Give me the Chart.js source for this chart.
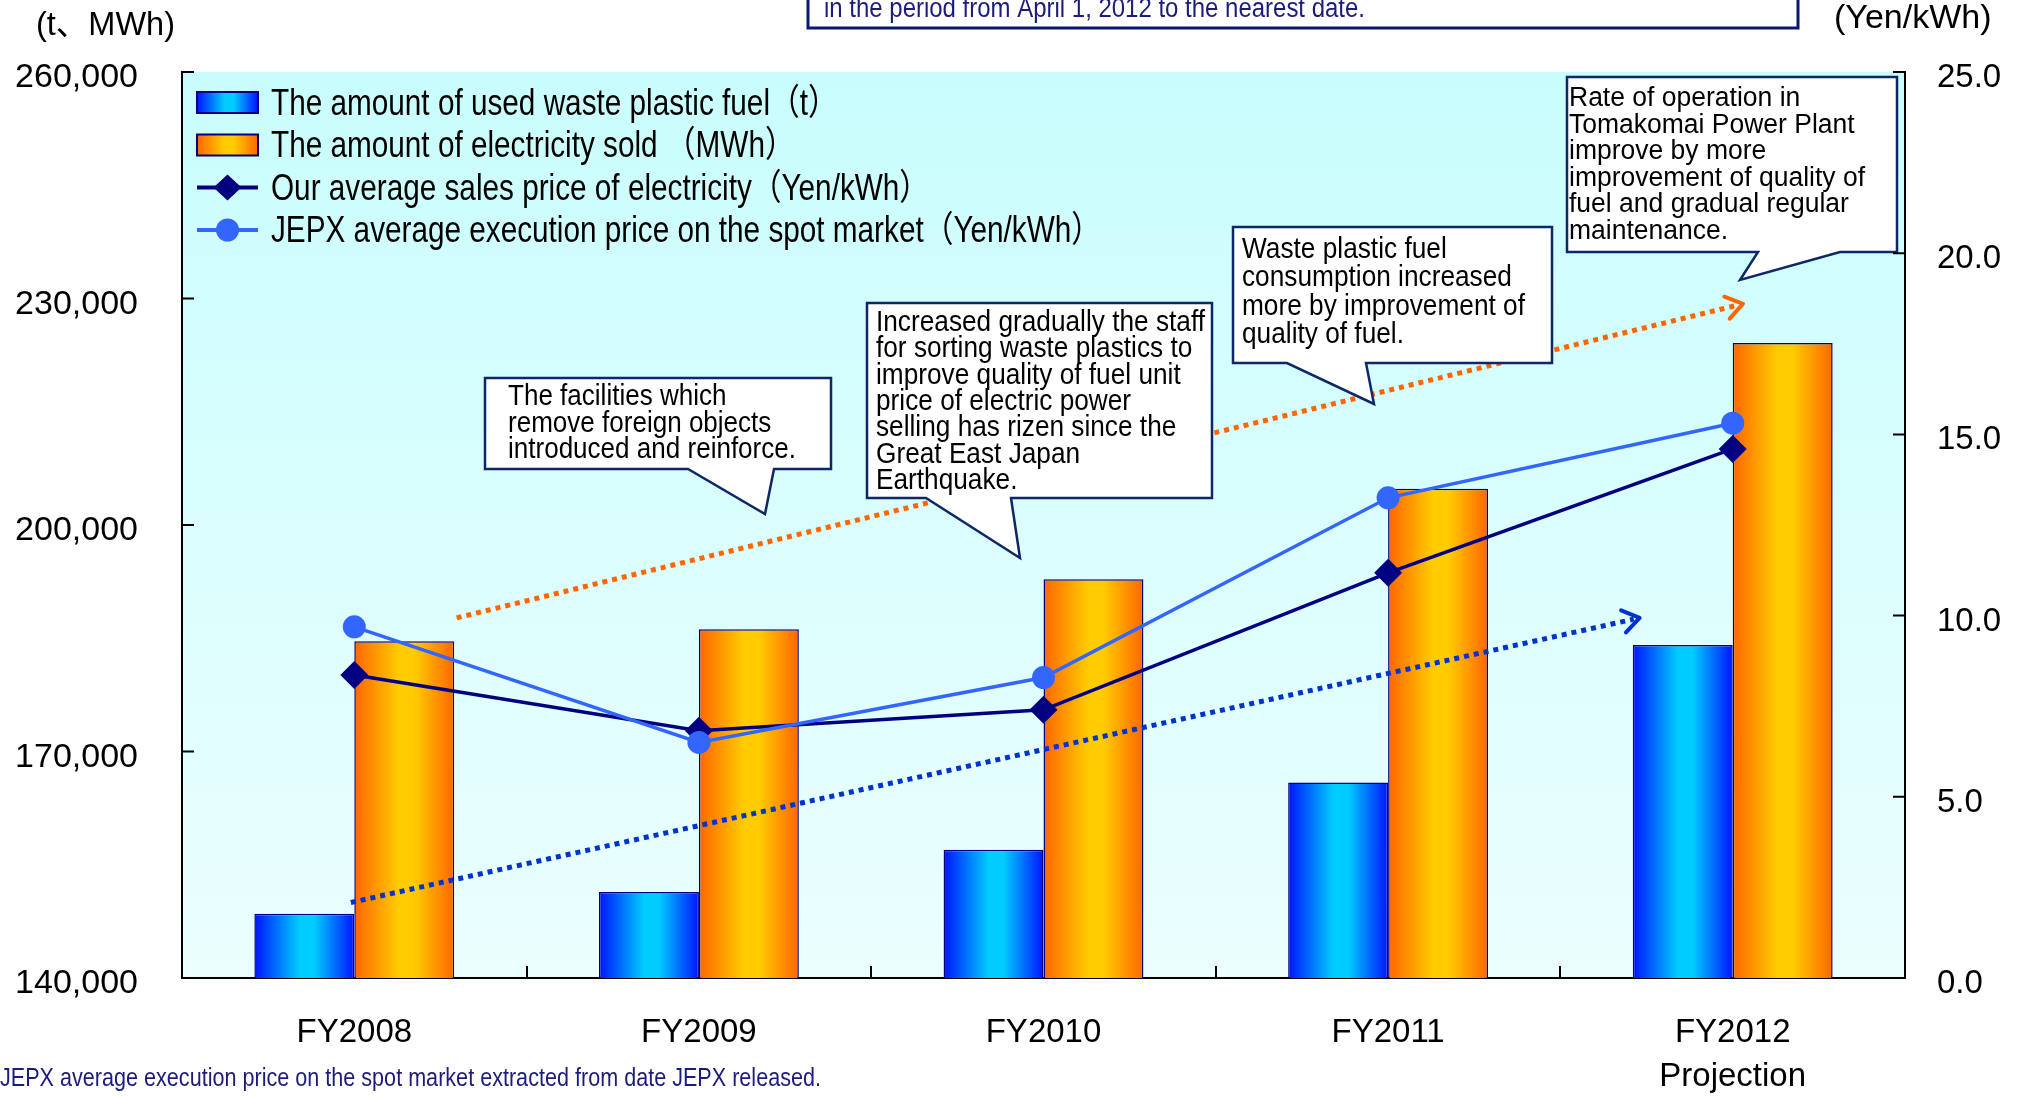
<!DOCTYPE html>
<html lang="en">
<head>
<meta charset="UTF-8">
<title>Waste plastic fuel and electricity sales, FY2008–FY2012</title>
<style>
  html, body { margin: 0; padding: 0; background: #fff; }
  .wrap { position: relative; width: 2028px; height: 1096px; overflow: hidden; }
  canvas { display: block; }
</style>
</head>
<body>
<div class="wrap"><canvas id="c"></canvas></div>
<script src="https://cdnjs.cloudflare.com/ajax/libs/Chart.js/4.4.1/chart.umd.js"></script>
<script>
const FONT = '"Liberation Sans", Arial, "Noto Sans CJK JP", sans-serif';
const NAVY = '#000080';
const BOX_LINE = '#0e2766';
const NOTE_INK = '#1c1c7c';

// data
const years = ['FY2008', 'FY2009', 'FY2010', 'FY2011', ['FY2012', 'Projection']];
const fuelUsed  = [148500, 151400, 157000, 165900, 184100];   // t
const elecSold  = [184600, 186200, 192800, 204800, 224100];   // MWh
const ourPrice  = [8.36, 6.82, 7.40, 11.18, 14.60];           // Yen/kWh
const jepxPrice = [9.69, 6.50, 8.29, 13.25, 15.31];           // Yen/kWh
const leftTicks  = [140000, 170000, 200000, 230000, 260000];
const rightTicks = [0, 5, 10, 15, 20, 25];
const seriesNames = [
  'The amount of used waste plastic fuel（t）',
  'The amount of electricity sold （MWh）',
  'Our average sales price of electricity（Yen/kWh）',
  'JEPX average execution price on the spot market（Yen/kWh）',
];

// dotted trend arrows, in category index / left-axis units
const trendArrows = [
  {from: [0.297, 187700], to: [4.03, 229300], color: '#ff6600'},
  {from: [-0.01, 150000], to: [3.73, 187700], color: '#0033cc'},
];

// speech-bubble notes (canvas px)
const notes = [
  {box: [485, 378, 831, 469], tail: [688, 774], tip: [765, 514], at: [508, 405], lh: 26.7, size: 30, w: 288,
   lines: ['The facilities which', 'remove foreign objects', 'introduced and reinforce.']},
  {box: [867, 303, 1212, 498], tail: [926, 1011], tip: [1020, 558], at: [876, 331], lh: 26.3, size: 30, w: 329,
   lines: ['Increased gradually the staff', 'for sorting waste plastics to', 'improve quality of fuel unit',
           'price of electric power', 'selling has rizen since the', 'Great East Japan', 'Earthquake.']},
  {box: [1233, 227, 1552, 363], tail: [1287, 1366], tip: [1374, 404], at: [1242, 258], lh: 28.3, size: 29, w: 283,
   lines: ['Waste plastic fuel', 'consumption increased', 'more by improvement of', 'quality of fuel.']},
  {box: [1567, 77, 1897, 252], tail: [1758, 1840], tip: [1740, 280], at: [1569, 106], lh: 26.5, size: 27, w: 296,
   lines: ['Rate of operation in', 'Tomakomai Power Plant', 'improve by more', 'improvement of quality of',
           'fuel and gradual regular', 'maintenance.']},
];

const CAT_PCT = 0.58;
const BLUE = ['#0014ff', '#00ccff'];
const ORANGE = ['#ff6600', '#ffcc00'];

function hGrad(ctx, x0, x1, c) {
  const g = ctx.createLinearGradient(x0, 0, x1, 0);
  g.addColorStop(0, c[0]);
  g.addColorStop(0.45, c[1]);
  g.addColorStop(0.6, c[1]);
  g.addColorStop(1, c[0]);
  return g;
}

function barFill(c, side) {
  return ctx => {
    const xs = ctx.chart.scales.x;
    if (ctx.type !== 'data' || !xs || !xs.width) return c[1];
    const w = xs.width / years.length * CAT_PCT / 2;
    const cx = xs.getPixelForValue(ctx.dataIndex);
    const x0 = side < 0 ? cx - w : cx;
    return hGrad(ctx.chart.ctx, x0, x0 + w, c);
  };
}

// text squeezed horizontally to a given width
function squeezed(ctx, txt, x, y, sx) {
  ctx.save();
  ctx.translate(x, y);
  ctx.scale(sx, 1);
  ctx.fillText(txt, 0, 0);
  ctx.restore();
}
function fitText(ctx, txt, x, y, w) {
  squeezed(ctx, txt, x, y, Math.min(1, w / ctx.measureText(txt).width));
}

function drawNote(ctx, n) {
  const [x0, y0, x1, y1] = n.box;
  ctx.save();
  ctx.beginPath();
  ctx.moveTo(x0, y0); ctx.lineTo(x1, y0); ctx.lineTo(x1, y1);
  ctx.lineTo(n.tail[1], y1); ctx.lineTo(n.tip[0], n.tip[1]); ctx.lineTo(n.tail[0], y1);
  ctx.lineTo(x0, y1); ctx.closePath();
  ctx.fillStyle = '#fff'; ctx.fill();
  ctx.lineWidth = 2.5; ctx.strokeStyle = BOX_LINE; ctx.lineJoin = 'miter'; ctx.stroke();
  ctx.font = `${n.size}px ${FONT}`;
  ctx.fillStyle = '#000'; ctx.textBaseline = 'alphabetic'; ctx.textAlign = 'left';
  const widest = Math.max(...n.lines.map(l => ctx.measureText(l).width));
  const sx = Math.min(1, n.w / widest);
  n.lines.forEach((l, i) => squeezed(ctx, l, n.at[0], n.at[1] + i * n.lh, sx));
  ctx.restore();
}

function drawArrow(chart, a) {
  const {ctx, scales: {x, y}} = chart;
  const step = x.getPixelForValue(1) - x.getPixelForValue(0);
  const px = i => x.getPixelForValue(0) + i * step;
  const x0 = px(a.from[0]), y0 = y.getPixelForValue(a.from[1]);
  const x1 = px(a.to[0]), y1 = y.getPixelForValue(a.to[1]);
  const ang = Math.atan2(y1 - y0, x1 - x0);
  ctx.save();
  ctx.strokeStyle = a.color; ctx.lineWidth = 5;
  ctx.setLineDash([5, 5]);
  ctx.beginPath(); ctx.moveTo(x0, y0); ctx.lineTo(x1 - 6 * Math.cos(ang), y1 - 6 * Math.sin(ang)); ctx.stroke();
  ctx.setLineDash([]);
  ctx.lineWidth = 4; ctx.lineCap = 'round'; ctx.lineJoin = 'round';
  ctx.beginPath();
  ctx.moveTo(x1 - 20 * Math.cos(ang - 0.6), y1 - 20 * Math.sin(ang - 0.6));
  ctx.lineTo(x1, y1);
  ctx.lineTo(x1 - 20 * Math.cos(ang + 0.6), y1 - 20 * Math.sin(ang + 0.6));
  ctx.stroke();
  ctx.restore();
}

function drawLegend(ctx) {
  const left = 197, sw = 61, tx = 271, top = 102.5, gap = 42.5;
  ctx.save();
  ctx.font = `36px ${FONT}`;
  const widest = Math.max(...seriesNames.map(s => ctx.measureText(s).width));
  const sx = Math.min(1, 830 / widest);
  seriesNames.forEach((s, i) => {
    const cy = top + i * gap;
    if (i < 2) {
      ctx.fillStyle = hGrad(ctx, left, left + sw, i === 0 ? BLUE : ORANGE);
      ctx.fillRect(left, cy - 10.5, sw, 21);
      ctx.strokeStyle = NAVY; ctx.lineWidth = 2;
      ctx.strokeRect(left, cy - 10.5, sw, 21);
    } else {
      const col = i === 2 ? NAVY : '#3366ff';
      ctx.strokeStyle = col; ctx.fillStyle = col; ctx.lineWidth = 4;
      ctx.beginPath(); ctx.moveTo(left, cy); ctx.lineTo(left + sw, cy); ctx.stroke();
      const mx = left + sw / 2;
      ctx.beginPath();
      if (i === 2) {
        ctx.moveTo(mx - 14, cy); ctx.lineTo(mx, cy - 13); ctx.lineTo(mx + 14, cy); ctx.lineTo(mx, cy + 13);
        ctx.closePath();
      } else {
        ctx.arc(mx, cy, 11.5, 0, Math.PI * 2);
      }
      ctx.fill();
    }
    ctx.fillStyle = '#000'; ctx.textBaseline = 'alphabetic';
    squeezed(ctx, s, tx, cy + 12, sx);
  });
  ctx.restore();
}

const decor = {
  id: 'decor',
  beforeDraw(chart) {
    const {ctx, chartArea: a} = chart;
    ctx.save();
    ctx.fillStyle = '#fff';
    ctx.fillRect(0, 0, chart.width, chart.height);
    const g = ctx.createLinearGradient(0, a.top, 0, a.bottom);
    g.addColorStop(0, '#c9fdfd');
    g.addColorStop(1, '#ecffff');
    ctx.fillStyle = g;
    ctx.fillRect(a.left, a.top, a.right - a.left, a.bottom - a.top);
    ctx.restore();
  },
  afterDatasetsDraw(chart) {
    trendArrows.forEach(a => drawArrow(chart, a));
    notes.forEach(n => drawNote(chart.ctx, n));
    drawLegend(chart.ctx);
  },
  afterDraw(chart) {
    const {ctx, chartArea: a, scales: {x, y, y1}} = chart;
    ctx.save();
    // tick marks point into the plot
    ctx.strokeStyle = '#000'; ctx.lineWidth = 2;
    ctx.beginPath();
    leftTicks.forEach(v => { const p = y.getPixelForValue(v); ctx.moveTo(a.left, p); ctx.lineTo(a.left + 12, p); });
    rightTicks.forEach(v => { const p = y1.getPixelForValue(v); ctx.moveTo(a.right - 12, p); ctx.lineTo(a.right, p); });
    const cw = (a.right - a.left) / years.length;
    for (let i = 1; i < years.length; i++) {
      const p = Math.round(a.left + i * cw);
      ctx.moveTo(p, a.bottom); ctx.lineTo(p, a.bottom - 12);
    }
    ctx.stroke();

    // axis units
    ctx.fillStyle = '#000'; ctx.textAlign = 'left'; ctx.textBaseline = 'alphabetic';
    ctx.font = `33px ${FONT}`;
    fitText(ctx, '(t、MWh)', 36, 35, 139);
    ctx.font = `34px ${FONT}`;
    fitText(ctx, '(Yen/kWh)', 1834, 28, 171);

    // period note box at the top
    ctx.strokeStyle = '#0a1870'; ctx.lineWidth = 3;
    ctx.strokeRect(808, -10, 990, 38);
    ctx.fillStyle = NOTE_INK;
    ctx.font = `27px ${FONT}`;
    fitText(ctx, 'in the period from April 1, 2012 to the nearest date.', 824, 17, 541);

    // source footnote
    ctx.font = `25px ${FONT}`;
    fitText(ctx, 'JEPX average execution price on the spot market extracted from date JEPX released.', 0, 1086, 821);
    ctx.restore();
  }
};

const axisBorder = {display: true, color: '#000', width: 2};

new Chart(document.getElementById('c'), {
  type: 'bar',
  data: {
    labels: years,
    datasets: [
      {type: 'line', label: seriesNames[3], data: jepxPrice, yAxisID: 'y1', order: 0,
       borderColor: '#3366ff', backgroundColor: '#3366ff', borderWidth: 3.5,
       pointStyle: 'circle', pointRadius: 11.5, pointBorderWidth: 0},
      {type: 'line', label: seriesNames[2], data: ourPrice, yAxisID: 'y1', order: 1,
       borderColor: NAVY, backgroundColor: NAVY, borderWidth: 3.5,
       pointStyle: 'rectRot', pointRadius: 14, pointBorderWidth: 0},
      {label: seriesNames[0], data: fuelUsed, yAxisID: 'y', order: 2,
       backgroundColor: barFill(BLUE, -1), borderColor: NAVY, borderWidth: 1.5,
       categoryPercentage: CAT_PCT, barPercentage: 1},
      {label: seriesNames[1], data: elecSold, yAxisID: 'y', order: 3,
       backgroundColor: barFill(ORANGE, 1), borderColor: NAVY, borderWidth: 1.5,
       categoryPercentage: CAT_PCT, barPercentage: 1},
    ]
  },
  options: {
    responsive: true, maintainAspectRatio: false, animation: false, events: [],
    layout: {padding: {top: 72, left: 0, right: 0, bottom: 0}},
    plugins: {legend: {display: false}, tooltip: {enabled: false}},
    scales: {
      x: {
        grid: {display: false, drawTicks: false}, border: axisBorder,
        ticks: {color: '#000', font: {family: FONT, size: 33, lineHeight: 1.36}, padding: 32, maxRotation: 0, autoSkip: false},
        afterFit: s => { s.height = 118; }
      },
      y: {
        position: 'left', min: leftTicks[0], max: leftTicks[leftTicks.length - 1],
        grid: {display: false, drawTicks: false}, border: axisBorder,
        ticks: {color: '#000', font: {family: FONT, size: 34}, padding: 44, labelOffset: 6,
                callback: v => v.toLocaleString('en-US')},
        afterBuildTicks: s => { s.ticks = leftTicks.map(v => ({value: v})); },
        afterFit: s => { s.width = 182; }
      },
      y1: {
        position: 'right', min: rightTicks[0], max: rightTicks[rightTicks.length - 1],
        grid: {display: false, drawTicks: false}, border: axisBorder,
        ticks: {color: '#000', font: {family: FONT, size: 33}, padding: 32, labelOffset: 6,
                callback: v => Number(v).toFixed(1)},
        afterBuildTicks: s => { s.ticks = rightTicks.map(v => ({value: v})); },
        afterFit: s => { s.width = 123; }
      }
    }
  },
  plugins: [decor]
});
</script>
</body>
</html>
